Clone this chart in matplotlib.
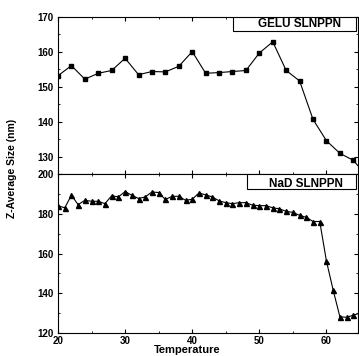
import matplotlib
matplotlib.use("Agg")
import matplotlib.pyplot as plt
from matplotlib.patches import Rectangle
from matplotlib.ticker import MultipleLocator

plt.rcParams['font.family'] = ['Liberation Sans', 'DejaVu Sans']
plt.rcParams['font.weight'] = 'bold'

# GELU SLNPPN (squares, every 2 degrees)
gelu_temp = [20, 22, 24, 26, 28, 30, 32, 34, 36, 38, 40, 42, 44, 46, 48,
             50, 52, 54, 56, 58, 60, 62, 64, 66]
gelu_size = [153.2, 156.1, 152.2, 153.9, 154.7, 158.2, 153.5, 154.4, 154.3,
             155.9, 160.1, 153.9, 154.1, 154.4, 154.7, 159.7, 162.9, 154.7,
             151.7, 140.7, 134.6, 131.0, 129.0, 124.5]

# NaD SLNPPN (triangles, every degree)
nad_temp = list(range(20, 67))
nad_size = [184.2, 183.1, 189.4, 184.7, 186.9, 186.4, 186.4, 185.2, 189.2,
            188.6, 191.3, 189.4, 187.8, 188.6, 191.1, 190.8, 187.3, 188.9,
            188.9, 186.9, 187.4, 190.6, 189.6, 188.6, 186.6, 185.7, 185.2,
            185.7, 185.7, 184.4, 184.2, 184.2, 183.1, 182.6, 181.3, 180.8,
            179.3, 178.3, 176.2, 176.2, 156.2, 141.6, 128.2, 127.9, 129.0,
            130.0, 130.5]

W, H = 359, 356
fig = plt.figure(figsize=(W / 100, H / 100), dpi=100)

left = 58 / W
width = 300 / W
ax1 = fig.add_axes([left, 1 - 174.3 / H, width, (174.3 - 17) / H])
ax2 = fig.add_axes([left, 1 - 333 / H, width, (333 - 174.3) / H])

ax1.plot(gelu_temp, gelu_size, color='black', lw=0.8, marker='s', ms=3.2)
ax2.plot(nad_temp, nad_size, color='black', lw=0.8, marker='^', ms=3.6)

ax1.set_ylim(125, 170)
ax2.set_ylim(120, 200)
for ax in (ax1, ax2):
    ax.set_xlim(20, 64.7)
    ax.xaxis.set_major_locator(MultipleLocator(10))
    ax.xaxis.set_minor_locator(MultipleLocator(5))
    ax.tick_params(which='both', direction='in', top=True, right=True,
                   labelsize=7, pad=3)
    ax.tick_params(axis='x', pad=2)
    ax.tick_params(which='major', length=3, width=0.8)
    ax.tick_params(which='minor', length=1.5, width=0.6)
    for s in ax.spines.values():
        s.set_linewidth(0.8)
    for lab in ax.get_xticklabels() + ax.get_yticklabels():
        lab.set_fontweight('bold')

ax1.yaxis.set_major_locator(MultipleLocator(10))
ax1.yaxis.set_minor_locator(MultipleLocator(5))
ax1.set_yticks([130, 140, 150, 160, 170])
ax1.tick_params(labelbottom=False)
ax2.yaxis.set_major_locator(MultipleLocator(20))
ax2.yaxis.set_minor_locator(MultipleLocator(10))

# label boxes
ax1.add_patch(Rectangle((0.583, 0.911), 0.410, 0.089, transform=ax1.transAxes,
                        fc='white', ec='black', lw=0.8, zorder=5))
ax1.text(0.805, 0.955, 'GELU SLNPPN', transform=ax1.transAxes, ha='center',
         va='center', fontsize=8.5, fontweight='bold', zorder=6)
ax2.add_patch(Rectangle((0.630, 0.907), 0.363, 0.093, transform=ax2.transAxes,
                        fc='white', ec='black', lw=0.8, zorder=5))
ax2.text(0.827, 0.940, 'NaD SLNPPN', transform=ax2.transAxes, ha='center',
         va='center', fontsize=8.5, fontweight='bold', zorder=6)

fig.text(12 / W, 1 - 168 / H, 'Z-Average Size (nm)', rotation=90,
         ha='center', va='center', fontsize=7.5, fontweight='bold')
fig.text(187 / W, 1 - 345 / H, 'Temperature', ha='center', va='top',
         fontsize=8, fontweight='bold')

fig.savefig('out.png', dpi=100)
